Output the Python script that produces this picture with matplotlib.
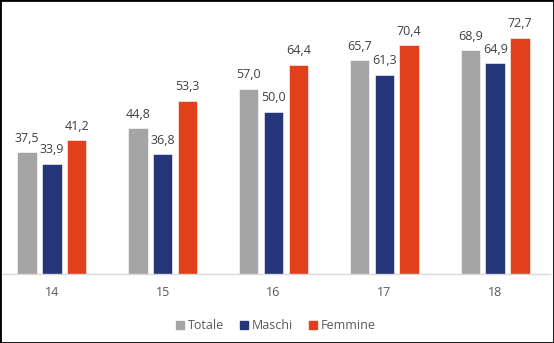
import matplotlib
matplotlib.use("Agg")
import matplotlib.pyplot as plt
from matplotlib.lines import Line2D
from matplotlib.patches import Rectangle
import numpy as np

categories = ["14", "15", "16", "17", "18"]
totale = [37.5, 44.8, 57.0, 65.7, 68.9]
maschi = [33.9, 36.8, 50.0, 61.3, 64.9]
femmine = [41.2, 53.3, 64.4, 70.4, 72.7]
series_names = ["Totale", "Maschi", "Femmine"]
colors = ["#A5A5A5", "#253579", "#E2401A"]

plt.rcParams['font.family'] = ['Open Sans', 'DejaVu Sans']

W, H = 554, 343
fig = plt.figure(figsize=(W / 100, H / 100), dpi=100)
# axes: x from px 3 to 550, y baseline px 274 -> top px 14
ax = fig.add_axes([3 / W, (H - 274) / H, (550 - 3) / W, (274 - 14) / H])

x = np.arange(len(categories))
bw = 0.176
off = 0.2237
data = [totale, maschi, femmine]
for k, (vals, col) in enumerate(zip(data, colors)):
    xs = x + (k - 1) * off
    bars = ax.bar(xs, vals, width=bw, color=col, edgecolor="white", linewidth=0.4, zorder=2)
    for xi, v in zip(xs, vals):
        ax.annotate(f"{v:.1f}".replace(".", ","), (xi, v), xytext=(0, 7.5),
                    textcoords="offset points", ha="center", va="baseline",
                    fontsize=9, color="#404040")

ax.set_xlim((3 - 51.8) / 110.85, (550 - 51.8) / 110.85)
ax.set_ylim(0, 80)
ax.set_xticks(x)
ax.set_xticklabels(categories, fontsize=9, color="#595959")
ax.tick_params(axis="x", length=0, pad=9)
ax.set_yticks([])
for s in ["top", "right", "left"]:
    ax.spines[s].set_visible(False)
ax.spines["bottom"].set_color("#D9D9D9")
ax.spines["bottom"].set_linewidth(1.0)
ax.spines["bottom"].set_zorder(3)

handles = [Line2D([0], [0], marker="s", linestyle="none", markersize=5.5,
                  markerfacecolor=c, markeredgecolor=c) for c in colors]
fig.legend(handles, series_names, loc="center", bbox_to_anchor=(276 / W, 1 - 325.7 / H),
           ncol=3, frameon=False, fontsize=9, handlelength=0.6, handletextpad=0.3,
           columnspacing=1.3, labelcolor="#595959")

fig.patches.append(Rectangle((0, 0), 1, 1, transform=fig.transFigure, fill=False,
                             edgecolor="black", linewidth=2.0, zorder=10))

fig.savefig("out.png", dpi=100)
